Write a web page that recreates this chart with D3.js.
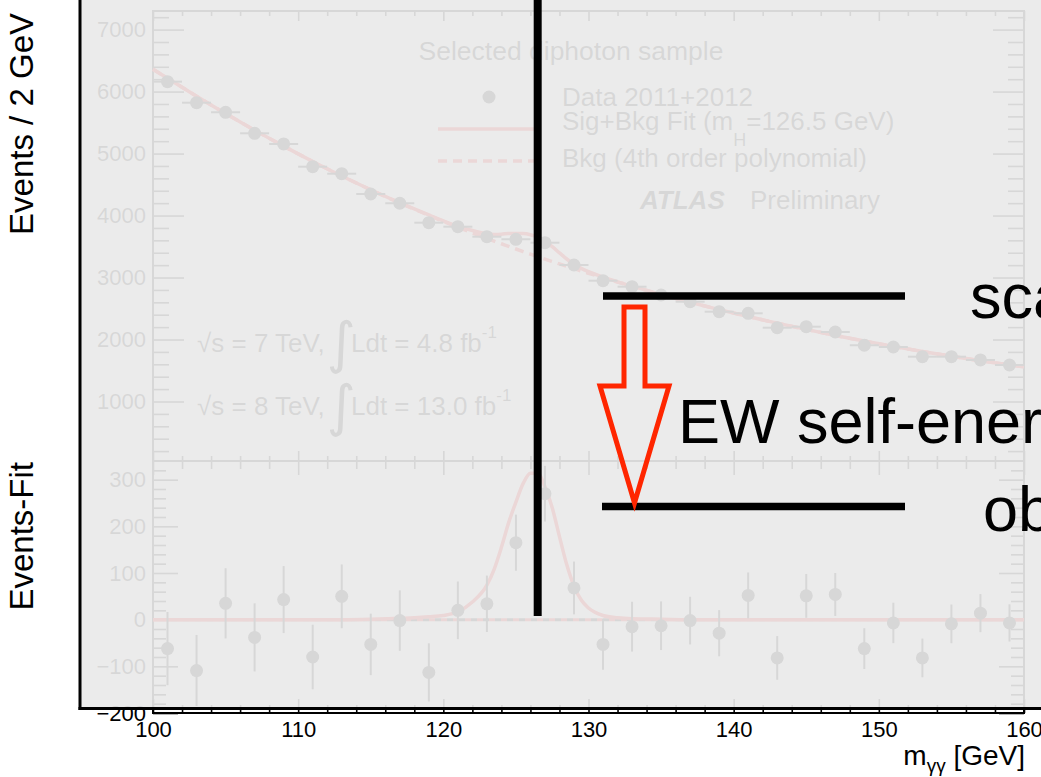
<!DOCTYPE html>
<html>
<head>
<meta charset="utf-8">
<script src="https://cdn.jsdelivr.net/npm/d3@7"></script>
<style>
  html, body { margin: 0; padding: 0; background: #fff; }
  svg { display: block; }
</style>
</head>
<body>
<svg id="chart" width="1041" height="777"></svg>
<script>
// ---- diphoton invariant mass spectrum, 2 GeV bins ----
const massBins = [101,103,105,107,109,111,113,115,117,119,121,123,125,127,129,
                  131,133,135,137,139,141,143,145,147,149,151,153,155,157,159];
const events = [6160,5821,5666,5327,5155,4788,4675,4348,4198,3885,3820,3659,3617,3562,3202,
                2949,2852,2718,2610,2449,2423,2191,2207,2121,1907,1879,1723,1723,1670,1589];
// data minus background fit
const residuals = [-62,-109,35,-38,43,-80,50,-53,-2,-113,20,34,165,270,68,
                   -53,-15,-13,-2,-29,52,-82,51,54,-62,-7,-82,-9,14,-7];

// fit curves sampled in mass
const fitMass = [100,101,103,105,107,109,111,113,115,117,118,119,120,121,122,123,123.5,124,124.5,
                 125,125.5,126,126.5,127,127.5,128,128.5,129,129.5,130,131,132,133,135,137,139,
                 141,143,145,147,149,151,153,155,157,159,160];
const bkgFit = [6360,6214,5926,5646,5377,5120,4873,4638,4415,4203,4102,4003,3906,3812,3720,3631,3588,3545,3503,
                3460,3418,3377,3337,3297,3258,3219,3181,3143,3106,3069,2997,2927,2859,2726,2601,2483,
                2371,2264,2163,2066,1975,1889,1807,1730,1658,1590,1558];
const sigFit = [0,0,0,0,0,0,0,0,1,3,4,6,9,17,38,74,108,155,208,
                252,292,314,314,285,240,178,118,72,42,25,9,4,2,1,0,0,
                0,0,0,0,0,0,0,0,0,0,0];

const massTicks = [100,110,120,130,140,150,160];
const eventTicks = [1000,2000,3000,4000,5000,6000,7000];
const residualTicks = [-200,-100,0,100,200,300];
const higgsMass = 126.5;

const FONT = '"Liberation Sans", Arial, Helvetica, sans-serif';
const svg = d3.select('#chart').style('font-family', FONT);

const x = d3.scaleLinear().domain([100, 160]).range([153, 1024]);
const yMain = d3.scaleLinear().domain([40, 7300]).range([461, 11]);
const yRes = d3.scaleLinear().domain([-200, 340]).range([713, 461]);

const plot = svg.append('g');

// ---- frames ----
plot.append('rect').attr('x', x(100)).attr('y', yMain(7300))
  .attr('width', x(160) - x(100)).attr('height', yMain(40) - yMain(7300))
  .attr('fill', '#fff').attr('stroke', '#000').attr('stroke-width', 2);
plot.append('rect').attr('x', x(100)).attr('y', yRes(340))
  .attr('width', x(160) - x(100)).attr('height', yRes(-200) - yRes(340))
  .attr('fill', '#fff').attr('stroke', '#000').attr('stroke-width', 2);

// ---- axes (ROOT style: ticks pointing inward, mirrored) ----
function addAxis(gen, tx, ty, labels) {
  const g = plot.append('g').attr('transform', `translate(${tx},${ty})`).call(gen);
  g.select('.domain').remove();
  g.selectAll('line').attr('stroke', '#000').attr('stroke-width', 1.6);
  if (labels) {
    g.selectAll('text').attr('fill', '#000').style('font-size', '22px').style('font-family', FONT);
  } else {
    g.selectAll('text').remove();
  }
  return g;
}
const massMinor = d3.range(102, 160, 2).filter(v => v % 10 !== 0);
const eventMinor = d3.range(200, 7300, 200).filter(v => v % 1000 !== 0);
const resMinor = d3.range(-180, 340, 20).filter(v => v % 100 !== 0);

// upper panel
addAxis(d3.axisLeft(yMain).tickValues(eventTicks).tickSizeInner(-31).tickSizeOuter(0).tickPadding(7).tickFormat(d3.format('d')), x(100), 0, true);
addAxis(d3.axisLeft(yMain).tickValues(eventMinor).tickSizeInner(-16).tickSizeOuter(0), x(100), 0, false);
addAxis(d3.axisRight(yMain).tickValues(eventTicks).tickSizeInner(-31).tickSizeOuter(0), x(160), 0, false);
addAxis(d3.axisRight(yMain).tickValues(eventMinor).tickSizeInner(-16).tickSizeOuter(0), x(160), 0, false);
addAxis(d3.axisBottom(x).tickValues(massTicks).tickSizeInner(-10).tickSizeOuter(0), 0, yMain(40), false);
addAxis(d3.axisBottom(x).tickValues(massMinor).tickSizeInner(-5).tickSizeOuter(0), 0, yMain(40), false);
addAxis(d3.axisTop(x).tickValues(massTicks).tickSizeInner(-10).tickSizeOuter(0), 0, yMain(7300), false);
addAxis(d3.axisTop(x).tickValues(massMinor).tickSizeInner(-5).tickSizeOuter(0), 0, yMain(7300), false);

// lower panel
addAxis(d3.axisLeft(yRes).tickValues(residualTicks).tickSizeInner(-25).tickSizeOuter(0).tickPadding(7).tickFormat(d3.format('d')), x(100), 0, true);
addAxis(d3.axisLeft(yRes).tickValues(resMinor).tickSizeInner(-13).tickSizeOuter(0), x(100), 0, false);
addAxis(d3.axisRight(yRes).tickValues(residualTicks).tickSizeInner(-25).tickSizeOuter(0), x(160), 0, false);
addAxis(d3.axisRight(yRes).tickValues(resMinor).tickSizeInner(-13).tickSizeOuter(0), x(160), 0, false);
addAxis(d3.axisTop(x).tickValues(massTicks).tickSizeInner(-14).tickSizeOuter(0), 0, yRes(340), false);
addAxis(d3.axisTop(x).tickValues(massMinor).tickSizeInner(-8).tickSizeOuter(0), 0, yRes(340), false);
addAxis(d3.axisBottom(x).tickValues(massTicks).tickSizeInner(-14).tickSizeOuter(0).tickPadding(8).tickFormat(d3.format('d')), 0, yRes(-200), true);
addAxis(d3.axisBottom(x).tickValues(massMinor).tickSizeInner(-8).tickSizeOuter(0), 0, yRes(-200), false);

// ---- fit curves ----
const fitPts = fitMass.map((m, i) => ({ m, b: bkgFit[i], s: sigFit[i] }));
const RED = '#ff0000';
plot.append('path').datum(fitPts)
  .attr('d', d3.line().x(d => x(d.m)).y(d => yMain(d.b)).curve(d3.curveMonotoneX))
  .attr('fill', 'none').attr('stroke', RED).attr('stroke-width', 3.5).attr('stroke-dasharray', '9,6');
plot.append('path').datum(fitPts)
  .attr('d', d3.line().x(d => x(d.m)).y(d => yMain(d.b + d.s)).curve(d3.curveMonotoneX))
  .attr('fill', 'none').attr('stroke', RED).attr('stroke-width', 3.5);

// residual panel: background (zero) line dashed, signal component on top
const zeroLine = d3.line().x(d => x(d.m)).y(() => yRes(0));
plot.append('path').datum(fitPts).attr('d', zeroLine)
  .attr('fill', 'none').attr('stroke', RED).attr('stroke-width', 3).attr('stroke-dasharray', '6,6');
plot.append('path').datum(fitPts).attr('d', zeroLine)
  .attr('fill', 'none').attr('stroke', '#000').attr('stroke-width', 3)
  .attr('stroke-dasharray', '6,6').attr('stroke-dashoffset', 6);
plot.append('path').datum(fitPts)
  .attr('d', d3.line().x(d => x(d.m)).y(d => yRes(d.s)).curve(d3.curveMonotoneX))
  .attr('fill', 'none').attr('stroke', RED).attr('stroke-width', 3.5);

// ---- data points ----
const pts = massBins.map((m, i) => ({ m, n: events[i], r: residuals[i], e: Math.sqrt(events[i]) }));
const upper = plot.append('g');
upper.selectAll('line.h').data(pts).join('line')
  .attr('x1', d => x(d.m - 1)).attr('x2', d => x(d.m + 1))
  .attr('y1', d => yMain(d.n)).attr('y2', d => yMain(d.n))
  .attr('stroke', '#000').attr('stroke-width', 2);
upper.selectAll('line.v').data(pts).join('line')
  .attr('x1', d => x(d.m)).attr('x2', d => x(d.m))
  .attr('y1', d => yMain(d.n - d.e)).attr('y2', d => yMain(d.n + d.e))
  .attr('stroke', '#000').attr('stroke-width', 2);
upper.selectAll('circle').data(pts).join('circle')
  .attr('cx', d => x(d.m)).attr('cy', d => yMain(d.n)).attr('r', 6.5).attr('fill', '#000');

const lower = plot.append('g');
lower.selectAll('line').data(pts).join('line')
  .attr('x1', d => x(d.m)).attr('x2', d => x(d.m))
  .attr('y1', d => yRes(d.r - d.e)).attr('y2', d => yRes(d.r + d.e))
  .attr('stroke', '#000').attr('stroke-width', 2);
lower.selectAll('circle').data(pts).join('circle')
  .attr('cx', d => x(d.m)).attr('cy', d => yRes(d.r)).attr('r', 6.5).attr('fill', '#000');

// ---- legend and labels inside the plot ----
const T = (sel, px, py, size, txt) => sel.append('text').attr('x', px).attr('y', py)
  .style('font-size', size + 'px').attr('fill', '#000').text(txt);

T(plot, 571, 60, 26.5, 'Selected diphoton sample').attr('text-anchor', 'middle');
plot.append('circle').attr('cx', 489).attr('cy', 97).attr('r', 6.5).attr('fill', '#000');
T(plot, 562, 106, 26, 'Data 2011+2012');
plot.append('line').attr('x1', 438).attr('x2', 540).attr('y1', 129).attr('y2', 129)
  .attr('stroke', RED).attr('stroke-width', 3.5);
const sb = T(plot, 562, 130, 26, 'Sig+Bkg Fit (m');
sb.append('tspan').attr('dy', 16).style('font-size', '18px').text('H');
sb.append('tspan').attr('dy', -16).style('font-size', '26px').text('=126.5 GeV)');
plot.append('line').attr('x1', 438).attr('x2', 540).attr('y1', 161).attr('y2', 161)
  .attr('stroke', RED).attr('stroke-width', 3.5).attr('stroke-dasharray', '9,6');
T(plot, 562, 167, 26, 'Bkg (4th order polynomial)');
T(plot, 640, 209, 26, 'ATLAS').style('font-weight', 'bold').style('font-style', 'italic');
T(plot, 750, 209, 26, 'Preliminary');

T(plot, 197, 352, 26, '√s = 7 TeV,');
T(plot, 341, 362, 56, '∫').attr('text-anchor', 'middle').style('font-family', '"DejaVu Sans"');
const l1 = T(plot, 351, 352, 26, 'Ldt = 4.8 fb');
l1.append('tspan').attr('dy', -14).style('font-size', '17px').text('-1');
T(plot, 197, 415, 26, '√s = 8 TeV,');
T(plot, 341, 425, 56, '∫').attr('text-anchor', 'middle').style('font-family', '"DejaVu Sans"');
const l2 = T(plot, 351, 415, 26, 'Ldt = 13.0 fb');
l2.append('tspan').attr('dy', -14).style('font-size', '17px').text('-1');

// ---- axis titles ----
svg.append('text').attr('transform', `translate(33,${yMain(7300) + 2}) rotate(-90)`)
  .attr('text-anchor', 'end').style('font-size', '33px').attr('fill', '#000').text('Events / 2 GeV');
svg.append('text').attr('transform', `translate(33,${yRes(340) + 1}) rotate(-90)`)
  .attr('text-anchor', 'end').style('font-size', '33px').attr('fill', '#000').text('Events-Fit');
const xt = svg.append('text').attr('x', 1025).attr('y', 765).attr('text-anchor', 'end')
  .style('font-size', '28px').attr('fill', '#000').text('m');
xt.append('tspan').attr('dy', 7).style('font-size', '19px').text('γγ');
xt.append('tspan').attr('dy', -7).style('font-size', '28px').text(' [GeV]');

// ---- translucent veil over the plot, framed left and bottom ----
svg.append('rect').attr('x', 80).attr('y', -5).attr('width', 1000).attr('height', 713.5)
  .attr('fill', 'rgb(233,233,233)').attr('fill-opacity', 0.92);
svg.append('line').attr('x1', 80).attr('x2', 80).attr('y1', -5).attr('y2', 710)
  .attr('stroke', '#000').attr('stroke-width', 3);
svg.append('line').attr('x1', 78.5).attr('x2', 1045).attr('y1', 708.5).attr('y2', 708.5)
  .attr('stroke', '#000').attr('stroke-width', 3);

// ---- annotations ----
const notes = svg.append('g');
notes.append('line').attr('x1', x(higgsMass)).attr('x2', x(higgsMass))
  .attr('y1', 0).attr('y2', 616).attr('stroke', '#000').attr('stroke-width', 8);
notes.append('line').attr('x1', 603).attr('x2', 905).attr('y1', 296).attr('y2', 296)
  .attr('stroke', '#000').attr('stroke-width', 7.5);
notes.append('line').attr('x1', 602).attr('x2', 905).attr('y1', 506.5).attr('y2', 506.5)
  .attr('stroke', '#000').attr('stroke-width', 7.5);
const arrow = [[624, 307], [645, 307], [645, 386], [669, 386], [634.5, 503], [600, 386], [624, 386]];
notes.append('path').attr('d', d3.line()(arrow) + 'Z')
  .attr('fill', 'none').attr('stroke', '#ff2600').attr('stroke-width', 5).attr('stroke-linejoin', 'miter');
T(notes, 970, 318, 63, 'scale');
T(notes, 678, 443, 63, 'EW self-energy');
T(notes, 983, 531, 63, 'observed');
</script>
</body>
</html>
